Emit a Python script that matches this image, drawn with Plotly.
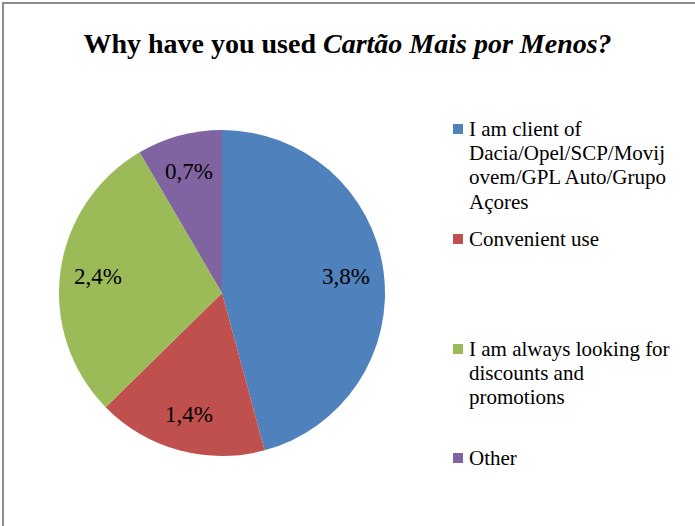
import math
import plotly.graph_objects as go

categories = ["I am client of Dacia/Opel/SCP/Movijovem/GPL Auto/Grupo Açores",
              "Convenient use",
              "I am always looking for discounts and promotions",
              "Other"]
values = [3.8, 1.4, 2.4, 0.7]
value_labels = ["3,8%", "1,4%", "2,4%", "0,7%"]
legend_lines = [["I am client of", "Dacia/Opel/SCP/Movij", "ovem/GPL Auto/Grupo", "Açores"],
                ["Convenient use"],
                ["I am always looking for", "discounts and", "promotions"],
                ["Other"]]
colors = ["#4F81BD", "#C0504D", "#9BBB59", "#8064A2"]

W, H = 695, 526
FONT = "Liberation Serif"

cx, cy, R = 222, 293, 163

fig = go.Figure(go.Pie(
    labels=categories,
    values=values,
    text=value_labels,
    textinfo="none",
    sort=False,
    direction="clockwise",
    rotation=0,
    marker=dict(colors=colors, line=dict(width=0)),
    domain=dict(x=[(cx - R) / W, (cx + R) / W], y=[(H - cy - R) / H, (H - cy + R) / H]),
    showlegend=False,
    hoverinfo="label+text",
))

annotations = []
shapes = []

# data labels placed along each slice's bisector
total = sum(values)
cum = 0.0
for v, lab in zip(values, value_labels):
    mid = (cum + v / 2) / total * 2 * math.pi
    cum += v
    r = 0.77 * R
    px = cx + r * math.sin(mid)
    py = cy - r * math.cos(mid)
    annotations.append(dict(text=lab, xref="paper", yref="paper",
                            x=px / W, y=1 - py / H, xanchor="center", yanchor="middle",
                            showarrow=False,
                            font=dict(family=FONT, size=23, color="#000000")))

# Custom legend (Excel-like spacing)
legend_top = [129, 239, 349, 458]
line_h = 24.2
sq = 10
for i, lines in enumerate(legend_lines):
    y0 = legend_top[i]
    shapes.append(dict(type="rect", xref="paper", yref="paper",
                       x0=453 / W, x1=(453 + sq) / W,
                       y0=1 - (y0 + sq / 2) / H, y1=1 - (y0 - sq / 2) / H,
                       fillcolor=colors[i], line=dict(width=0)))
    for j, t in enumerate(lines):
        annotations.append(dict(text=t, xref="paper", yref="paper",
                                x=467 / W, y=1 - (y0 + j * line_h) / H,
                                xanchor="left", yanchor="middle", showarrow=False,
                                font=dict(family=FONT, size=21, color="#000000")))

# chart border
shapes.append(dict(type="rect", xref="paper", yref="paper",
                   x0=3 / W, x1=1.02, y0=-0.02, y1=1 - 3 / H,
                   line=dict(color="#8c8c8c", width=2), fillcolor="rgba(0,0,0,0)"))

fig.update_layout(
    width=W, height=H,
    margin=dict(l=0, r=0, t=0, b=0),
    paper_bgcolor="#ffffff",
    plot_bgcolor="#ffffff",
    title=dict(text="<b>Why have you used <i>Cartão Mais por Menos?</i></b>",
               x=0.5, xanchor="center", y=1 - 43 / H, yanchor="middle",
               font=dict(family=FONT, size=28, color="#000000")),
    shapes=shapes,
    annotations=annotations,
)

fig.write_html("out.html")
